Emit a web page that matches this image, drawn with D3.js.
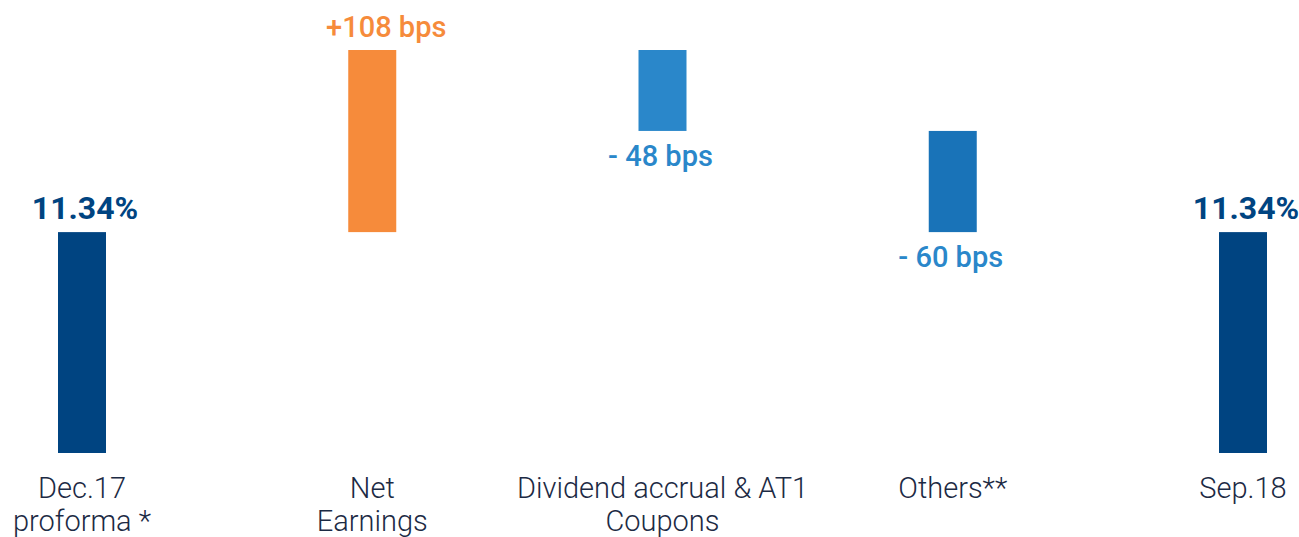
<!DOCTYPE html>
<html>
<head>
<meta charset="utf-8">
<script src="https://cdn.jsdelivr.net/npm/d3@7"></script>
<style>
  body { margin: 0; background: #fff; }
  svg { display: block; }
</style>
</head>
<body>
<div id="chart"></div>
<script>
// categories (each line of the axis label separately)
var categories = ["Dec.17 proforma *", "Net Earnings", "Dividend accrual & AT1 Coupons", "Others**", "Sep.18"];
var catLines = [["Dec.17", "proforma *"], ["Net", "Earnings"], ["Dividend accrual & AT1", "Coupons"], ["Others**"], ["Sep.18"]];
// CET1 ratio in %, deltas in percentage points
var steps = [11.34, 1.08, -0.48, -0.60, 11.34];
var kinds = ["total", "delta", "delta", "delta", "total"];
var valueLabels = ["11.34%", "+108 bps", "- 48 bps", "- 60 bps", "11.34%"];
var colors = ["#004481", "#F68B3B", "#2A87CA", "#1973B8", "#004481"];
var labelColors = ["#004481", "#F68B3B", "#2A87CA", "#2A87CA", "#004481"];

var W = 1299, H = 537;

// build waterfall start/end
var run = 0;
var data = categories.map(function(c, i) {
  var d = {cat: c, lines: catLines[i], label: valueLabels[i], color: colors[i], lcolor: labelColors[i]};
  if (kinds[i] === "total") {
    d.y0 = null; d.y1 = steps[i]; run = steps[i];
  } else {
    d.y0 = run; d.y1 = run + steps[i]; run = d.y1;
  }
  d.delta = steps[i];
  return d;
});

var svg = d3.select("#chart").append("svg")
  .attr("width", W).attr("height", H);

var x = d3.scalePoint().domain(categories).range([82, 1243]);
// axis is truncated: bottom of totals sits at ~10.03%
var y = d3.scaleLinear().domain([10.03, 12.42]).range([453, 50]);
var bw = 48;

svg.selectAll("rect.bar")
  .data(data)
  .enter().append("rect")
  .attr("class", "bar")
  .attr("x", function(d) { return x(d.cat) - bw / 2; })
  .attr("width", bw)
  .attr("y", function(d) {
    var lo = d.y0 === null ? y.domain()[0] : d.y0;
    return y(Math.max(lo, d.y1));
  })
  .attr("height", function(d) {
    var lo = d.y0 === null ? y.domain()[0] : d.y0;
    return Math.abs(y(lo) - y(d.y1));
  })
  .attr("fill", function(d) { return d.color; });

// value labels: above bar for totals / increases, below for decreases
svg.selectAll("text.val")
  .data(data)
  .enter().append("text")
  .attr("class", "val")
  .attr("x", function(d) { return x(d.cat); })
  .attr("dx", function(d) { return (d.y0 !== null && d.delta > 0) ? 14 : (d.y0 === null ? 3 : -2); })
  .attr("y", function(d) {
    if (d.y0 === null) return y(d.y1) - 13;
    if (d.delta > 0) return y(d.y1) - 13;
    return y(d.y1) + 35;
  })
  .attr("text-anchor", "middle")
  .attr("font-family", "Roboto, sans-serif")
  .attr("font-weight", function(d) { return d.y0 === null ? 700 : 500; })
  .attr("font-size", function(d) { return d.y0 === null ? "32px" : "29px"; })
  .attr("fill", function(d) { return d.lcolor; })
  .text(function(d) { return d.label; });

// category labels
var cl = svg.selectAll("text.cat")
  .data(data)
  .enter().append("text")
  .attr("class", "cat")
  .attr("x", function(d) { return x(d.cat); })
  .attr("y", 498)
  .attr("text-anchor", "middle")
  .attr("font-family", "Roboto, sans-serif")
  .attr("font-weight", 300)
  .attr("font-size", "29px")
  .attr("fill", "#1c2a44");

cl.selectAll("tspan")
  .data(function(d) { return d.lines; })
  .enter().append("tspan")
  .attr("x", function() { return x(d3.select(this.parentNode).datum().cat); })
  .attr("dy", function(l, i) { return i === 0 ? 0 : 33; })
  .text(function(l) { return l; });
</script>
</body>
</html>
